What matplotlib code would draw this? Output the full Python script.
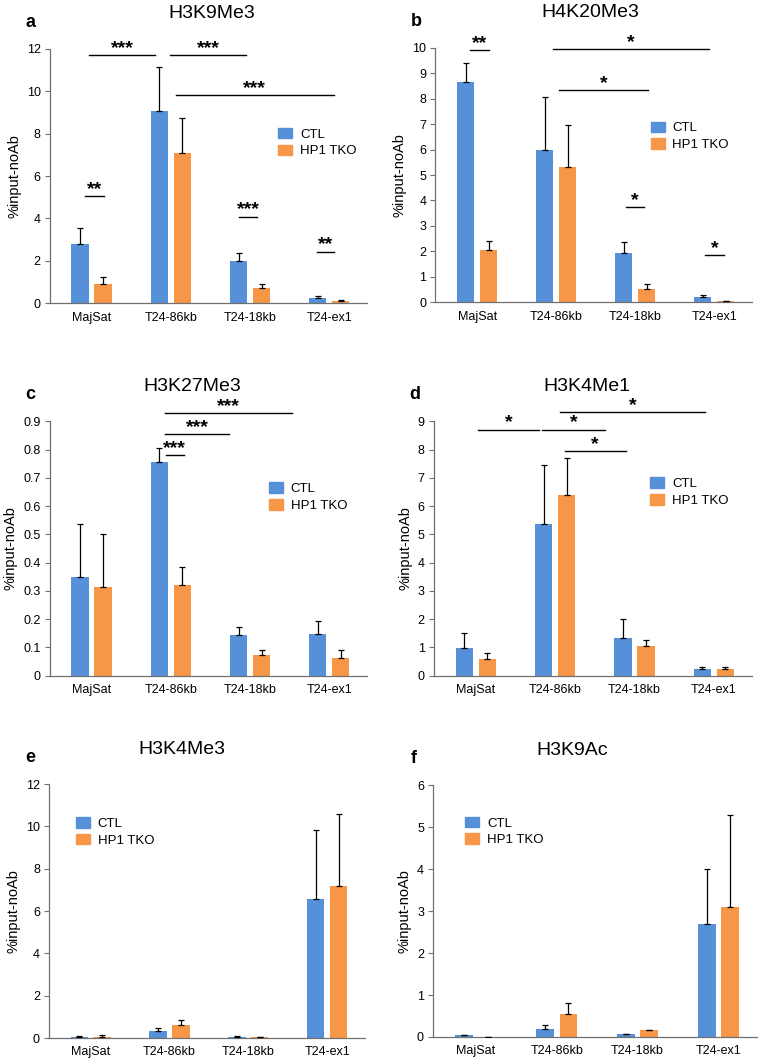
import numpy as np
import matplotlib
matplotlib.use('Agg')
import matplotlib.pyplot as plt
from matplotlib.patches import Patch

plt.rcParams['font.family'] = ['Liberation Sans', 'DejaVu Sans']

# Shared categories and series names
categories = ['MajSat', 'T24-86kb', 'T24-18kb', 'T24-ex1']
series_names = ['CTL', 'HP1 TKO']

# a: H3K9Me3
a_ctl = [2.80, 9.06, 1.97, 0.27]
a_ctl_err = [0.74, 2.07, 0.42, 0.08]
a_tko = [0.90, 7.09, 0.74, 0.11]
a_tko_err = [0.36, 1.65, 0.16, 0.05]
a_sig = [(-0.03, 0.80, 11.7, '***'), (0.99, 1.95, 11.73, '***'), (1.06, 3.06, 9.84, '***'),
         (-0.08, 0.16, 5.07, '**'), (1.86, 2.09, 4.09, '***'), (2.84, 3.06, 2.44, '**')]

# b: H4K20Me3
b_ctl = [8.66, 5.97, 1.93, 0.22]
b_ctl_err = [0.75, 2.10, 0.45, 0.06]
b_tko = [2.06, 5.31, 0.52, 0.03]
b_tko_err = [0.34, 1.65, 0.18, 0.01]
b_sig = [(-0.085, 0.15, 9.91, '**'), (0.96, 2.94, 9.96, '*'), (1.04, 2.16, 8.33, '*'),
         (1.88, 2.11, 3.74, '*'), (2.89, 3.12, 1.86, '*')]

# c: H3K27Me3
c_ctl = [0.349, 0.756, 0.144, 0.149]
c_ctl_err = [0.189, 0.050, 0.029, 0.043]
c_tko = [0.312, 0.320, 0.073, 0.061]
c_tko_err = [0.188, 0.065, 0.019, 0.031]
c_sig = [(0.92, 2.53, 0.929, '***'), (0.92, 1.74, 0.856, '***'), (0.94, 1.16, 0.782, '***')]

# d: H3K4Me1
d_ctl = [0.97, 5.37, 1.32, 0.25]
d_ctl_err = [0.53, 2.09, 0.68, 0.05]
d_tko = [0.59, 6.40, 1.04, 0.25]
d_tko_err = [0.21, 1.29, 0.23, 0.07]
d_sig = [(0.025, 0.80, 8.71, '*'), (0.84, 1.63, 8.71, '*'), (1.06, 2.89, 9.32, '*'),
         (1.12, 1.89, 7.96, '*')]

# e: H3K4Me3
e_ctl = [0.06, 0.31, 0.06, 6.57]
e_ctl_err = [0.04, 0.16, 0.04, 3.24]
e_tko = [0.07, 0.61, 0.04, 7.17]
e_tko_err = [0.06, 0.22, 0.03, 3.41]

# f: H3K9Ac
f_ctl = [0.04, 0.20, 0.06, 2.69]
f_ctl_err = [0.0, 0.08, 0.0, 1.31]
f_tko = [0.005, 0.54, 0.17, 3.10]
f_tko_err = [0.0, 0.28, 0.0, 2.19]

blue = '#5590D9'
orange = '#F79646'
axis_col = '#707070'

fig = plt.figure(figsize=(7.65, 10.64), dpi=100)

# letter, title, title x (axes fraction), rect, data..., ylim, yticks, tick format, legend anchor
panels = [
    ('a', 'H3K9Me3', 0.51, [0.065, 0.715, 0.415, 0.239], a_ctl, a_ctl_err, a_tko, a_tko_err, a_sig,
     (0, 12), np.arange(0, 13, 2), '{:.0f}', (0.72, 0.69)),
    ('b', 'H4K20Me3', 0.49, [0.569, 0.716, 0.414, 0.239], b_ctl, b_ctl_err, b_tko, b_tko_err, b_sig,
     (0, 10), np.arange(0, 11, 1), '{:.0f}', (0.68, 0.71)),
    ('c', 'H3K27Me3', 0.45, [0.065, 0.365, 0.415, 0.239], c_ctl, c_ctl_err, c_tko, c_tko_err, c_sig,
     (0, 0.9), np.arange(0, 0.91, 0.1), None, (0.69, 0.76)),
    ('d', 'H3K4Me1', 0.48, [0.567, 0.365, 0.416, 0.239], d_ctl, d_ctl_err, d_tko, d_tko_err, d_sig,
     (0, 9), np.arange(0, 10, 1), '{:.0f}', (0.68, 0.78)),
    ('e', 'H3K4Me3', 0.42, [0.064, 0.0244, 0.413, 0.2386], e_ctl, e_ctl_err, e_tko, e_tko_err, [],
     (0, 12), np.arange(0, 13, 2), '{:.0f}', (0.085, 0.87)),
    ('f', 'H3K9Ac', 0.43, [0.566, 0.0254, 0.424, 0.2366], f_ctl, f_ctl_err, f_tko, f_tko_err, [],
     (0, 6), np.arange(0, 7, 1), '{:.0f}', (0.10, 0.875)),
]

x = np.arange(len(categories))
w = 0.22
off = 0.145

for letter, title, tx, rect, ctl, ctl_err, tko, tko_err, sig, ylim, yticks, fmt, leg_xy in panels:
    ax = fig.add_axes(rect)
    ax.bar(x - off, ctl, w, color=blue, zorder=2)
    ax.bar(x + off, tko, w, color=orange, zorder=2)
    ax.errorbar(x - off, ctl, yerr=[np.zeros(4), ctl_err], fmt='none', ecolor='black',
                elinewidth=0.9, capsize=2.5, capthick=0.9, zorder=3)
    ax.errorbar(x + off, tko, yerr=[np.zeros(4), tko_err], fmt='none', ecolor='black',
                elinewidth=0.9, capsize=2.5, capthick=0.9, zorder=3)

    # significance bars with stars
    for x0, x1, y, stars in sig:
        ax.plot([x0, x1], [y, y], color='black', lw=1.0, clip_on=False, zorder=4)
        ax.annotate(stars, xy=((x0 + x1) / 2, y), xytext=(0, 1.5), textcoords='offset points',
                    ha='center', va='baseline', fontsize=14, fontweight='bold',
                    annotation_clip=False)

    ax.set_xlim(-0.53, 3.48)
    ax.set_ylim(*ylim)
    ax.set_yticks(yticks)
    if fmt is None:
        ax.set_yticklabels(['0'] + ['{:.1f}'.format(v) for v in yticks[1:]])
    else:
        ax.set_yticklabels([fmt.format(v) for v in yticks])
    ax.set_xticks(x)
    ax.set_xticklabels(categories)
    ax.tick_params(axis='x', length=0, pad=6, labelsize=9)
    ax.tick_params(axis='y', length=3.5, width=0.8, color=axis_col, pad=3, labelsize=9)
    for s in ['top', 'right']:
        ax.spines[s].set_visible(False)
    for s in ['left', 'bottom']:
        ax.spines[s].set_color(axis_col)
        ax.spines[s].set_linewidth(0.9)
    ax.set_ylabel('%input-noAb', fontsize=10.5, labelpad=4)

    handles = [Patch(color=blue, label=series_names[0]), Patch(color=orange, label=series_names[1])]
    ax.legend(handles=handles, loc='upper left', bbox_to_anchor=leg_xy, frameon=False,
              fontsize=9.5, handlelength=1.05, handleheight=0.85, handletextpad=0.6,
              labelspacing=0.3, borderaxespad=0, borderpad=0)

    # title and panel letter
    fig.text(rect[0] + rect[2] * tx, rect[1] + rect[3] + 0.033, title, ha='center',
             va='center', fontsize=14)
    fig.text(rect[0] - 0.025, rect[1] + rect[3] + 0.025, letter, ha='center', va='center',
             fontsize=13, fontweight='bold')

fig.savefig('out.png', dpi=100)
